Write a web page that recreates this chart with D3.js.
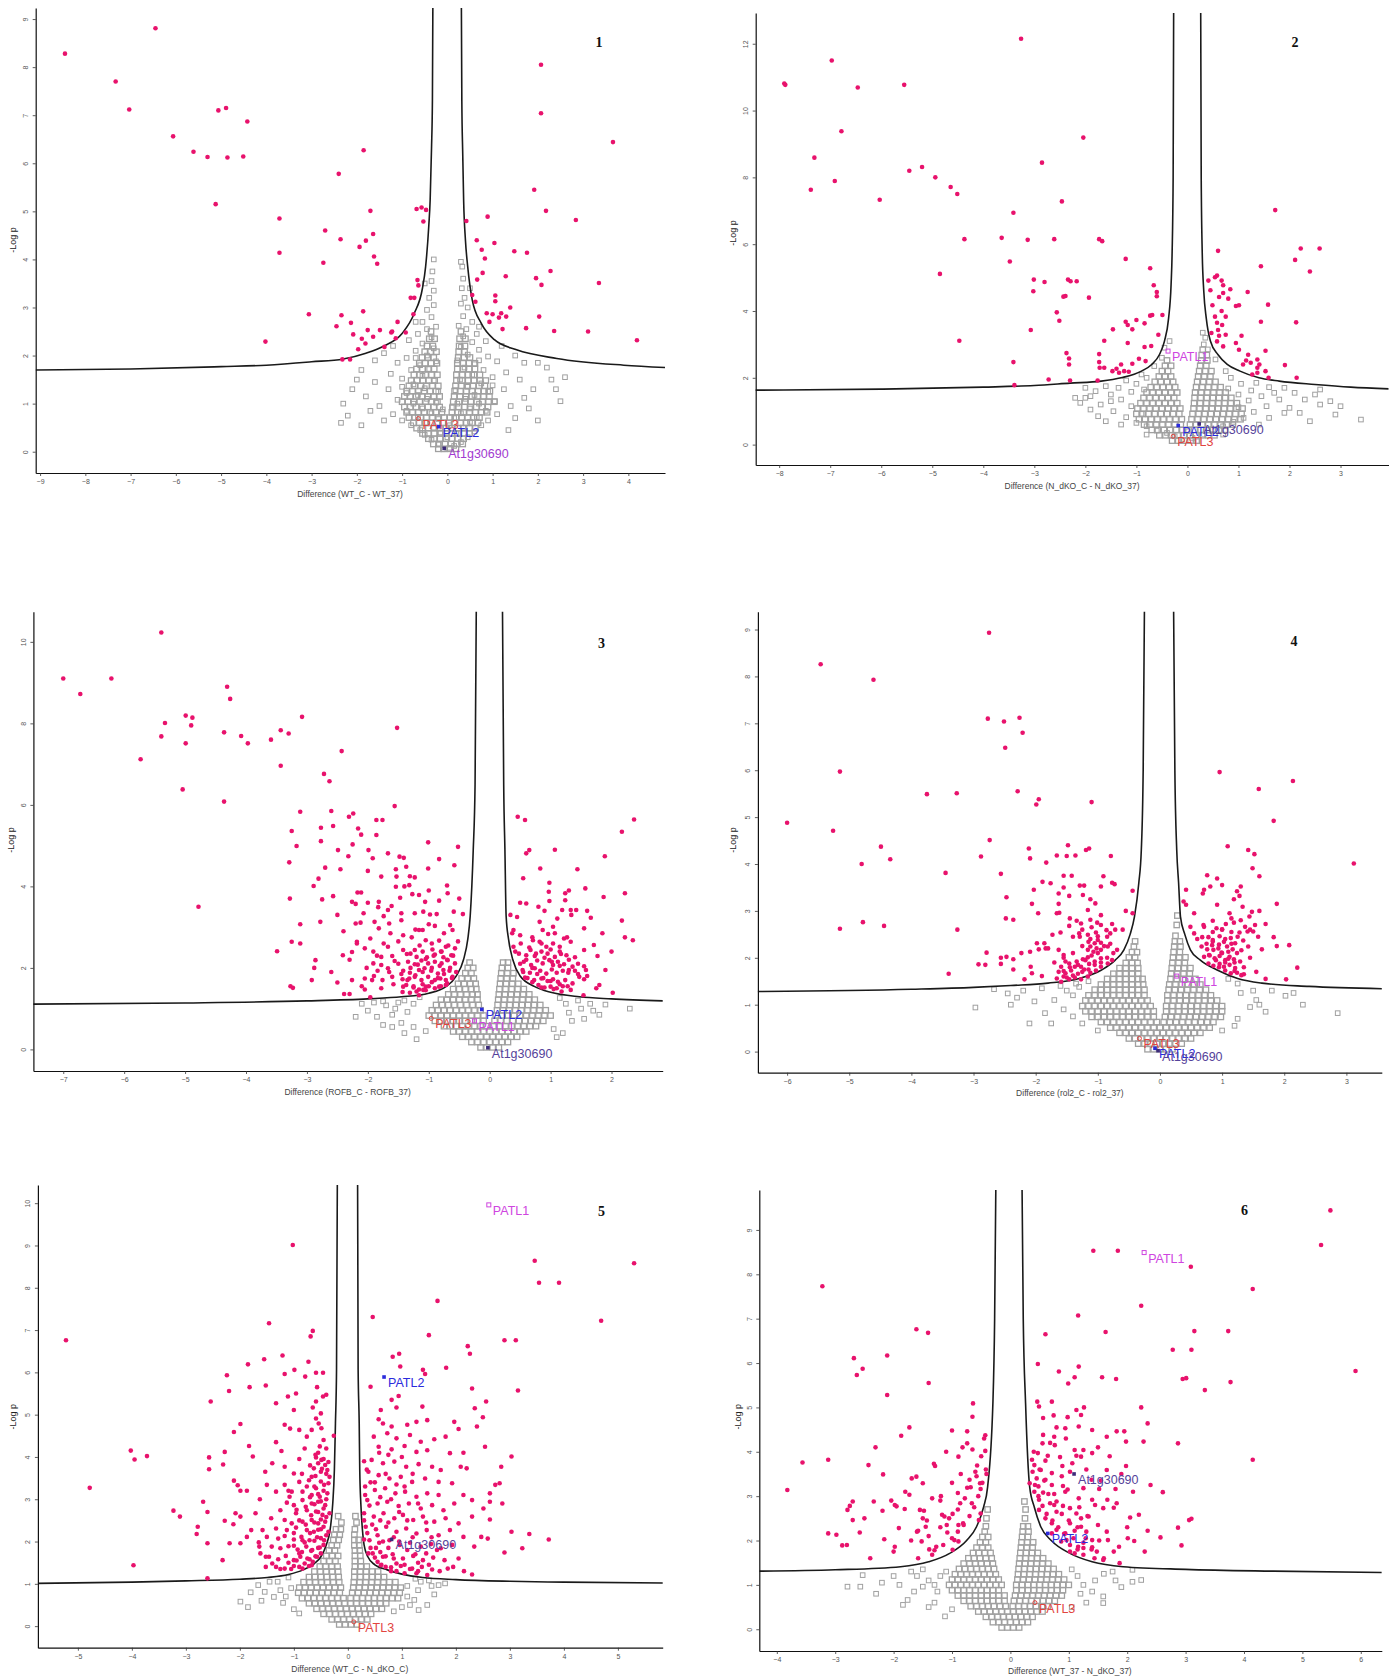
<!DOCTYPE html>
<html>
<head>
<meta charset="utf-8">
<script src="https://cdn.jsdelivr.net/npm/d3@7"></script>
<style>
  body { margin: 0; background: #fff; }
  svg { display: block; }
</style>
</head>
<body>
<svg id="chart" width="1399" height="1678"></svg>
<script>
// Volcano plots: x = difference of means, y = -log10 p.
// sigN = proteins above the cut-off (pink), nsN = scattered non-significant proteins,
// coreN = rows [y, x1, x2, ...] of the dense non-significant cloud, cutN = cut-off curve branches.

// ---------- Panel 1: Difference (WT_C - WT_37) ----------
const xTicks1 = [-9,-8,-7,-6,-5,-4,-3,-2,-1,0,1,2,3,4];
const yTicks1 = [0,1,2,3,4,5,6,7,8,9];
const sig1 = [[-6.45,8.81],[-8.45,8.28],[-7.33,7.70],[-7.03,7.12],[-5.06,7.10],[-4.89,7.15],[-4.42,6.87],[-6.06,6.56],[-5.61,6.24],[-5.3,6.13],[-4.86,6.12],[-4.51,6.14],[-1.85,6.27],[-5.12,5.15],[-2.4,5.78],[2.07,8.05],[2.07,7.04],[3.66,6.44],[1.92,5.45],[2.18,5.01],[2.84,4.82],[-3.71,4.85],[-3.71,4.14],[-2.7,4.6],[-2.36,4.42],[-1.8,4.39],[-1.94,4.26],[-1.64,4.53],[-1.7,5.01],[-1.62,4.06],[-1.55,3.91],[-2.74,3.93],[-0.68,5.05],[-0.57,5.08],[-0.47,5.03],[-0.53,4.79],[-0.66,3.57],[-0.64,3.46],[-0.81,3.2],[-0.73,3.2],[-0.75,2.86],[-3.06,2.86],[-2.34,2.84],[-1.86,2.92],[-2.45,2.61],[-2.13,2.68],[-2.08,2.44],[-1.76,2.53],[-1.49,2.53],[-1.89,2.35],[-1.81,2.25],[-1.97,2.13],[-1.64,2.39],[-1.39,2.18],[-1.24,2.48],[-1.22,2.5],[-1.14,2.36],[-1.1,2.7],[-0.92,2.48],[-4.02,2.29],[-2.32,1.92],[-2.15,1.92],[0.42,4.8],[0.89,4.89],[0.65,4.4],[1.04,4.34],[0.76,4.2],[0.83,4.02],[1.48,4.17],[1.76,4.14],[0.78,3.72],[0.66,3.58],[1.29,3.65],[1.96,3.61],[2.28,3.76],[2.08,3.47],[3.35,3.51],[0.55,3.26],[1.06,3.25],[1.06,3.13],[0.62,3.12],[0.87,2.88],[1.0,2.86],[1.19,2.88],[1.39,3.0],[1.14,2.79],[1.3,2.81],[0.93,2.7],[2.03,2.81],[1.22,2.55],[1.74,2.57],[2.36,2.51],[3.11,2.5],[4.19,2.32]];
const ns1 = [[-0.1,0.05],[0.05,0.08],[-0.2,0.15],[0.15,0.12],[-0.35,0.25],[0.3,0.2],[0.0,0.3],[-0.5,0.35],[0.45,0.3],[-0.15,0.4],[0.2,0.38],[-0.6,0.45],[0.6,0.42],[-0.3,0.5],[0.35,0.5],[-0.8,0.55],[0.75,0.55],[0.05,0.55],[-0.45,0.6],[0.5,0.62],[-1.0,0.65],[0.9,0.65],[-0.2,0.68],[0.15,0.7],[-0.65,0.72],[0.65,0.72],[-1.2,0.78],[1.1,0.78],[-0.35,0.8],[0.3,0.8],[-0.9,0.85],[0.85,0.85],[-0.55,0.9],[0.5,0.9],[-0.1,0.88],[0.1,0.92],[-1.5,0.95],[1.4,0.95],[-0.75,1.0],[0.7,1.0],[-0.25,1.02],[0.22,1.0],[-1.1,1.08],[1.05,1.05],[-0.45,1.1],[0.4,1.1],[-1.8,1.15],[1.7,1.12],[-0.65,1.18],[0.6,1.18],[-0.9,1.22],[0.9,1.25],[-0.2,1.25],[0.18,1.28],[-1.3,1.3],[1.25,1.3],[-0.5,1.32],[0.45,1.35],[-2.3,1.0],[2.5,1.05],[-2.1,1.3],[2.3,1.5],[-0.75,1.4],[0.75,1.42],[-1.6,1.45],[1.6,1.5],[-0.3,1.48],[0.28,1.5],[-1.0,1.52],[1.0,1.55],[-0.55,1.58],[0.55,1.6],[-1.25,1.62],[1.3,1.65],[-0.8,1.7],[0.8,1.7],[-0.4,1.72],[0.38,1.75],[-1.9,1.7],[2.0,1.85],[-0.6,1.8],[0.6,1.82],[-1.1,1.85],[1.1,1.88],[-0.25,1.88],[0.22,1.9],[-0.9,1.95],[0.9,1.98],[-0.45,2.0],[0.45,2.02],[-1.4,2.05],[1.5,2.0],[-0.7,2.1],[0.7,2.12],[-0.3,2.15],[0.3,2.18],[-1.2,2.2],[1.2,2.2],[-0.55,2.25],[0.55,2.28],[-0.85,2.32],[0.85,2.3],[-0.35,2.38],[0.35,2.4],[-0.65,2.45],[0.65,2.45],[-0.45,2.55],[0.42,2.55],[-0.25,2.6],[0.25,2.62],[-0.55,2.7],[0.55,2.7],[-0.35,2.8],[0.35,2.82],[-0.7,2.7],[0.7,2.6],[-0.45,2.95],[0.45,3.0],[-0.3,3.05],[0.3,3.08],[-0.4,3.2],[0.38,3.2],[-0.3,3.35],[0.32,3.4],[-0.35,3.55],[0.35,3.6],[-0.33,3.75],[0.33,3.85],[-0.3,4.0],[0.3,3.95],[-1.0,1.35],[1.0,1.38],[-0.7,1.95],[0.7,1.9],[-2.2,0.75],[-1.9,0.55],[2.0,0.65],[2.4,1.3],[1.9,1.3],[-1.7,0.85],[1.8,0.9],[-1.4,0.65],[1.5,0.7],[-2.0,1.5],[2.2,1.75],[-1.6,1.9],[1.7,1.85],[-0.5,3.5],[0.5,3.4],[2.6,1.55],[-2.35,0.6],[1.35,0.45]];
const core1 = [
  [0.06,-0.2,-0.07,0.06,0.19],
  [0.16,-0.31,-0.18,-0.05,0.08,0.21,0.34],
  [0.27,-0.42,-0.29,-0.16,-0.03,0.1,0.23,0.36],
  [0.38,-0.55,-0.42,-0.29,-0.16,-0.03,0.1,0.23,0.36,0.49],
  [0.49,-0.68,-0.55,-0.42,-0.29,-0.16,-0.03,0.1,0.23,0.36,0.49,0.62],
  [0.6,-0.75,-0.62,-0.49,-0.36,-0.23,-0.1,0.03,0.16,0.29,0.42,0.55,0.68],
  [0.71,-0.85,-0.72,-0.59,-0.46,-0.33,-0.2,-0.07,0.06,0.19,0.32,0.45,0.58,0.71],
  [0.82,-0.9,-0.77,-0.64,-0.51,-0.38,-0.25,-0.12,0.1,0.23,0.36,0.49,0.62,0.75,0.88],
  [0.93,-0.95,-0.82,-0.69,-0.56,-0.43,-0.3,-0.17,0.12,0.25,0.38,0.51,0.64,0.77,0.9],
  [1.04,-1.0,-0.87,-0.74,-0.61,-0.48,-0.35,-0.22,0.13,0.26,0.39,0.52,0.65,0.78,0.91,1.04],
  [1.15,-0.95,-0.82,-0.69,-0.56,-0.43,-0.3,-0.17,0.15,0.28,0.41,0.54,0.67,0.8,0.93],
  [1.26,-0.9,-0.77,-0.64,-0.51,-0.38,-0.25,0.16,0.29,0.42,0.55,0.68,0.81,0.94],
  [1.37,-0.85,-0.72,-0.59,-0.46,-0.33,-0.2,0.18,0.31,0.44,0.57,0.7,0.83],
  [1.48,-0.8,-0.67,-0.54,-0.41,-0.28,0.2,0.33,0.46,0.59,0.72,0.85],
  [1.6,-0.74,-0.61,-0.48,-0.35,-0.22,0.2,0.33,0.46,0.59,0.72],
  [1.72,-0.68,-0.55,-0.42,-0.29,0.22,0.35,0.48,0.61],
  [1.84,-0.62,-0.49,-0.36,-0.23,0.22,0.35,0.48,0.61],
  [1.96,-0.56,-0.43,-0.3,0.24,0.37,0.5],
  [2.08,-0.5,-0.37,-0.24,0.25,0.38],
  [2.2,-0.45,-0.32,0.26,0.39],
  [2.35,-0.4,-0.28,0.27,0.4],
  [2.5,-0.36,0.3]
];
const cut1L = [[-9.1,1.70],[-7,1.72],[-5,1.77],[-4,1.80],[-3,1.87],[-2.3,1.93],[-1.8,2.05],[-1.4,2.2],[-1.0,2.46],[-0.73,2.88],[-0.55,3.4],[-0.48,3.85],[-0.41,4.7],[-0.38,5.23],[-0.35,6.3],[-0.33,7.3],[-0.32,9.3]];
const cut1R = [[0.31,9.3],[0.32,7.3],[0.34,6.2],[0.36,5.23],[0.4,4.4],[0.45,3.85],[0.55,3.16],[0.75,2.67],[1.04,2.33],[1.53,2.12],[2.42,1.94],[3.9,1.8],[4.85,1.75]];
const tags1 = [{name:"PATL3",x:-0.64,y:0.69},{name:"PATL2",x:-0.19,y:0.52},{name:"At1g30690",x:-0.07,y:0.07}];

// ---------- Panel 2: Difference (N_dKO_C - N_dKO_37) ----------
const xTicks2 = [-8,-7,-6,-5,-4,-3,-2,-1,0,1,2,3];
const yTicks2 = [0,2,4,6,8,10,12];
const sig2 = [[-7.9,10.81],[-7.88,10.77],[-6.97,11.5],[-6.46,10.69],[-5.55,10.77],[-6.78,9.38],[-7.31,8.59],[-5.45,8.2],[-5.2,8.31],[-6.91,7.89],[-7.38,7.63],[-6.03,7.33],[-4.94,8.0],[-4.64,7.71],[-4.51,7.5],[-3.26,12.15],[-2.04,9.19],[-2.85,8.44],[-2.46,7.28],[-3.41,6.94],[-4.37,6.15],[-3.64,6.19],[-3.13,6.13],[-2.61,6.15],[-1.73,6.15],[-1.67,6.09],[-3.48,5.48],[-4.85,5.11],[-3.01,4.94],[-2.8,4.87],[-2.34,4.94],[-2.29,4.89],[-2.17,4.89],[-3.02,4.59],[-2.39,4.45],[-2.43,4.43],[-1.93,4.4],[-1.21,5.56],[-0.73,5.28],[-0.66,4.77],[-0.6,4.57],[-0.6,4.44],[-2.56,3.96],[-2.51,3.71],[-1.21,3.68],[-1.17,3.58],[-1.0,3.73],[-0.84,3.63],[-0.73,3.86],[-0.69,3.88],[-0.49,3.88],[-1.46,3.45],[-1.08,3.45],[-3.07,3.43],[-4.47,3.11],[-1.63,3.11],[-1.17,3.04],[-0.57,3.29],[-0.84,2.92],[-0.71,2.95],[-1.73,2.71],[-2.37,2.74],[-2.32,2.58],[-2.32,2.4],[-3.41,2.47],[-1.73,2.47],[-1.63,2.3],[-1.72,2.3],[-1.3,2.4],[-1.39,2.27],[-1.47,2.2],[-1.24,2.2],[-1.08,2.42],[-0.95,2.57],[-0.82,2.5],[-1.15,2.18],[-1.34,2.15],[-2.72,1.95],[-2.3,1.92],[-1.76,1.92],[-3.39,1.78],[0.6,5.8],[0.41,4.91],[0.54,5.01],[0.58,5.06],[0.67,4.91],[0.45,4.62],[0.7,4.77],[0.84,4.65],[0.7,4.54],[0.62,4.42],[0.8,4.37],[0.49,4.17],[0.95,4.15],[1.01,4.17],[1.18,4.57],[0.67,4.0],[0.54,3.83],[0.58,3.65],[0.75,3.83],[0.68,3.58],[0.6,3.43],[0.47,3.34],[0.62,3.26],[0.75,3.29],[1.06,3.26],[0.58,3.09],[0.7,2.94],[1.01,2.84],[0.95,3.04],[1.19,2.69],[1.53,2.81],[1.44,5.34],[1.44,3.68],[1.58,4.19],[1.72,7.02],[2.22,5.87],[2.59,5.87],[2.11,5.53],[2.4,5.18],[2.13,3.66],[1.15,2.52],[1.24,2.45],[1.37,2.55],[1.41,2.4],[1.09,2.4],[1.27,2.1],[1.37,2.15],[1.53,2.2],[1.37,2.3],[1.91,2.38],[2.14,2.0],[1.59,2.0]];
const ns2 = [[-0.1,0.15],[0.1,0.2],[-0.25,0.25],[0.2,0.1],[0.3,0.3],[-0.4,0.35],[0.0,0.4],[-0.6,0.42],[0.5,0.45],[-0.8,0.55],[0.7,0.55],[-1.0,0.65],[0.9,0.68],[1.1,0.8],[-1.2,0.82],[-0.9,0.92],[1.3,0.98],[-1.45,1.0],[1.0,1.12],[-1.1,1.15],[1.55,1.15],[-1.7,1.2],[1.2,1.32],[-1.3,1.35],[1.8,1.35],[-2.0,1.4],[1.45,1.45],[-1.5,1.5],[1.0,1.5],[-1.1,1.58],[2.1,1.55],[1.25,1.62],[-0.85,1.65],[0.8,1.68],[-1.35,1.7],[1.6,1.72],[-1.0,1.82],[1.05,1.82],[-0.8,2.0],[0.85,2.0],[-1.2,1.92],[1.35,1.85],[-0.9,2.1],[0.75,2.2],[-0.65,2.35],[0.55,2.55],[-0.5,2.6],[0.4,2.85],[-0.45,2.9],[0.32,3.0],[0.35,3.2],[0.3,3.35],[-0.35,3.1],[-2.1,1.25],[-1.9,1.05],[-1.75,0.85],[-1.6,0.7],[-2.2,1.4],[2.3,1.35],[2.6,1.2],[2.8,1.3],[3.0,1.15],[3.4,0.75],[2.5,1.5],[1.9,0.95],[1.6,0.8],[2.0,1.1],[2.2,0.95],[-1.3,0.6],[1.4,0.6],[-0.8,0.3],[0.7,0.3],[-1.5,1.3],[1.7,1.55],[-1.8,1.6],[1.9,1.7],[2.6,1.65],[-1.6,1.75],[-2.0,1.7],[2.9,0.9],[2.4,0.7],[-1.9,1.45]];
const core2 = [
  [0.12,-0.3,-0.18,-0.06,0.06,0.18],
  [0.28,-0.55,-0.43,-0.31,-0.19,-0.07,0.05,0.17,0.29,0.41,0.53],
  [0.44,-0.7,-0.58,-0.46,-0.34,-0.22,-0.1,0.02,0.14,0.26,0.38,0.5,0.62,0.74],
  [0.6,-0.85,-0.73,-0.61,-0.49,-0.37,-0.25,-0.13,0.05,0.17,0.29,0.41,0.53,0.65,0.77,0.89],
  [0.76,-0.95,-0.83,-0.71,-0.59,-0.47,-0.35,-0.23,-0.11,0.08,0.2,0.32,0.44,0.56,0.68,0.8,0.92,1.04],
  [0.92,-1.0,-0.88,-0.76,-0.64,-0.52,-0.4,-0.28,-0.16,0.1,0.22,0.34,0.46,0.58,0.7,0.82,0.94,1.06],
  [1.08,-0.98,-0.86,-0.74,-0.62,-0.5,-0.38,-0.26,-0.14,0.12,0.24,0.36,0.48,0.6,0.72,0.84,0.96,1.08],
  [1.24,-0.92,-0.8,-0.68,-0.56,-0.44,-0.32,-0.2,0.13,0.25,0.37,0.49,0.61,0.73,0.85,0.97],
  [1.4,-0.86,-0.74,-0.62,-0.5,-0.38,-0.26,0.14,0.26,0.38,0.5,0.62,0.74,0.86],
  [1.56,-0.8,-0.68,-0.56,-0.44,-0.32,-0.2,0.15,0.27,0.39,0.51,0.63,0.75],
  [1.72,-0.72,-0.6,-0.48,-0.36,-0.24,0.17,0.29,0.41,0.53,0.65],
  [1.88,-0.64,-0.52,-0.4,-0.28,0.19,0.31,0.43,0.55],
  [2.04,-0.56,-0.44,-0.32,0.21,0.33,0.45],
  [2.2,-0.5,-0.38,0.23,0.35,0.47],
  [2.36,-0.44,-0.32,0.25,0.37],
  [2.52,-0.4,0.27,0.39],
  [2.68,0.28,0.38],
  [2.84,0.3]
];
const cut2L = [[-8.5,1.63],[-6,1.66],[-4,1.72],[-3,1.77],[-2.3,1.84],[-1.69,1.9],[-1.3,2.0],[-0.9,2.2],[-0.7,2.4],[-0.55,2.69],[-0.45,3.1],[-0.37,3.77],[-0.32,4.8],[-0.3,5.75],[-0.28,8],[-0.27,13]];
const cut2R = [[0.26,13],[0.27,8],[0.29,5.75],[0.32,4.6],[0.37,3.77],[0.45,3.1],[0.6,2.69],[0.78,2.4],[1.03,2.2],[1.4,2.0],[1.8,1.9],[2.5,1.8],[3.2,1.72],[3.95,1.67]];
const tags2 = [{name:"PATL1",x:-0.38,y:2.8},{name:"PATL2",x:-0.18,y:0.57},{name:"At1g30690",x:0.23,y:0.62},{name:"PATL3",x:-0.28,y:0.25}];

// ---------- Panel 3: Difference (ROFB_C - ROFB_37) ----------
const xTicks3 = [-7,-6,-5,-4,-3,-2,-1,0,1,2];
const yTicks3 = [0,2,4,6,8,10];
const sig3 = [[-7.0,9.1],[-6.72,8.72],[-6.21,9.1],[-5.39,10.23],[-4.31,8.9],[-4.26,8.6],[-4.99,8.19],[-4.88,8.14],[-5.33,8.01],[-4.9,7.95],[-5.39,7.68],[-4.99,7.51],[-5.73,7.12],[-5.04,6.38],[-4.36,7.78],[-4.08,7.69],[-3.97,7.51],[-3.43,7.83],[-3.3,7.75],[-3.59,7.6],[-3.08,8.16],[-1.52,7.89],[-2.43,7.32],[-3.43,6.96],[-4.36,6.08],[-4.78,3.5],[-2.72,6.76],[-2.63,6.58],[-1.56,5.97],
[-3.11,5.83],[-2.6,5.85],[-2.31,5.71],[-2.24,5.79],[-1.86,5.63],[-1.76,5.63],[-3.25,5.36],[-2.77,5.44],[-2.57,5.48],[-2.16,5.42],[-2.11,5.27],[-1.86,5.26],[-3.17,4.99],[-2.77,5.11],[-2.25,5.03],[-2.49,4.89],[-1.99,4.89],[-1.01,5.08],[-0.52,4.97],[-3.29,4.59],[-2.32,4.74],[-2.7,4.46],[-2.45,4.42],[-1.92,4.69],[-1.67,4.81],[-1.48,4.73],[-1.41,4.7],[-1.37,4.48],[-1.54,4.42],[-2.0,4.38],[-1.78,4.24],[-1.53,4.24],[-1.31,4.25],[-1.23,4.22],[-1.01,4.44],[-0.83,4.67],[-0.58,4.52],[-2.89,4.01],[-2.81,4.19],[-2.17,3.85],[-2.11,3.85],[-1.54,3.99],[-1.32,4.03],[-0.7,4.02],[-0.69,3.83],[-2.75,3.68],[-2.57,3.76],[-3.28,3.7],[-2.26,3.62],[-2.2,3.57],[-1.82,3.62],[-1.47,3.72],[-1.27,3.81],[-1.16,3.79],[-1.06,3.62],[-0.83,3.65],[-2.07,3.34],[-1.83,3.49],[-1.67,3.42],[-1.61,3.52],[-1.45,3.34],[-1.23,3.34],[-1.09,3.38],[-0.98,3.31],[-0.87,3.32],[-0.59,3.38],[-0.44,3.32],[-3.11,3.07],[-2.78,3.13],[-2.2,3.09],[-2.12,3.11],[-1.89,3.13],[-1.74,3.27],[-1.65,3.09],[-1.45,3.17],[-1.22,2.94],[-1.16,2.93],[-1.1,2.93],[-1.0,3.07],[-0.9,3.03],[-0.65,3.05],[-0.61,2.93],[-1.82,2.97],[-1.63,2.85],[-1.42,2.8],[-2.18,2.64],[-2.18,2.6],[-1.96,2.72],[-1.74,2.6],[-1.5,2.65],[-1.28,2.75],[-1.05,2.68],[-0.83,2.67],[-0.72,2.52],[-3.25,2.64],[-3.11,2.6],[-2.05,2.48],[-1.91,2.4],[-1.67,2.52],[-1.42,2.44],[-1.23,2.44],[-1.1,2.4],[-0.94,2.45],[-0.79,2.4],[-0.57,2.48],[-2.41,2.31],[-2.26,2.39],[-1.78,2.27],[-1.6,2.29],[-1.36,2.34],[-1.2,2.27],[-1.03,2.26],[-0.9,2.33],[-0.76,2.26],[-0.63,2.31],[-3.49,2.41],[-2.86,2.19],[-2.88,2.0],[-1.91,2.11],[-1.78,2.07],[-1.56,2.17],[-1.34,2.15],[-1.23,2.09],[-1.12,2.18],[-1.01,2.11],[-0.9,2.15],[-0.79,2.11],[-0.69,2.19],[-0.57,2.11],[-2.02,2.0],[-1.84,1.93],[-1.67,1.99],[-1.42,1.93],[-1.31,1.88],[-1.16,1.95],[-1.07,1.99],[-0.96,1.93],[-0.85,1.86],[-0.76,1.95],[-0.66,1.93],[-2.92,1.7],[-2.5,1.64],[-2.26,1.7],[-2.05,1.74],[-1.93,1.7],[-1.76,1.7],[-1.6,1.78],[-1.43,1.72],[-1.32,1.74],[-1.23,1.78],[-1.12,1.7],[-1.01,1.78],[-0.9,1.7],[-0.81,1.74],[-0.72,1.7],[-0.61,1.78],[-3.27,1.55],[-3.23,1.51],[-2.39,1.36],[-2.3,1.36],[-2.05,1.47],[-1.96,1.28],[-1.78,1.5],[-1.42,1.54],[-1.37,1.58],[-1.25,1.52],[-1.16,1.47],[-1.05,1.54],[-1.0,1.55],[-0.83,1.54],[-0.72,1.58],[-1.43,1.41],[-1.31,1.39],[-1.16,1.33],[-1.09,1.46],
[-0.55,1.9],[-0.62,1.75],[-0.7,1.62],[-0.8,1.55],[-0.9,1.5],[-1.05,1.45],[-1.2,1.42],[-0.65,2.0],[-0.75,1.85],[-0.85,1.75],[-0.95,1.65],[-1.1,1.6],[-1.25,1.55],[-0.6,2.3],[-0.7,2.2],[-0.82,2.05],[-0.95,2.0],[-1.1,1.9],[-1.22,1.82],[-1.35,1.7],[-0.52,2.65],[-0.68,2.55],[-0.8,2.4],[-0.92,2.3],[-1.05,2.22],[-1.18,2.08],[-1.3,2.0],[-1.45,1.85],[-1.58,1.6],[-0.75,2.85],[-0.95,2.6],[-1.15,2.55],[-1.3,2.35],[-1.5,2.1],[-1.65,1.9],[-1.9,1.8],[-2.1,1.55],[-1.85,2.3],[-2.3,2.2],[-2.6,1.9],[-2.4,2.9],[-2.0,3.6],[-2.5,3.3],[-1.4,4.0],[-1.0,3.9],[-0.5,3.7],
[0.46,5.71],[0.58,5.63],[0.6,4.81],[0.65,4.89],[0.6,3.58],[0.34,3.3],[0.45,3.25],[0.39,2.93],[0.37,2.85],[0.39,2.52],[0.51,2.6],[0.48,2.35],[0.67,2.44],[0.83,4.44],[0.98,4.09],[0.97,3.87],[1.07,4.9],[1.44,4.42],[1.57,3.95],[1.89,4.74],[1.87,3.74],[2.22,3.83],[2.17,3.16],[2.37,5.64],[2.17,5.34],[2.22,2.75],[2.35,2.68],[1.24,3.83],[1.24,3.66],[0.98,3.64],[0.9,3.4],[0.82,3.13],[1.04,3.01],[1.11,3.21],[1.19,3.42],[1.33,3.42],[1.42,3.42],[1.34,3.3],[1.66,3.23],[1.55,2.97],[0.87,2.93],[0.96,2.83],[1.07,2.85],[1.22,2.72],[1.27,2.75],[0.71,2.68],[0.82,2.64],[0.93,2.52],[1.04,2.6],[1.15,2.52],[1.33,2.64],[1.55,2.44],[1.71,2.56],[0.6,2.31],[0.74,2.29],[0.85,2.4],[0.95,2.35],[1.07,2.27],[1.17,2.34],[1.26,2.31],[1.4,2.26],[0.56,2.15],[0.68,2.07],[0.78,2.18],[0.87,2.11],[0.98,2.19],[1.04,2.07],[1.12,2.15],[1.22,2.09],[1.36,2.03],[1.55,2.04],[0.54,1.95],[0.66,1.88],[0.74,1.99],[0.83,1.93],[0.93,1.86],[1.02,1.96],[1.1,1.88],[1.2,1.93],[1.29,1.88],[1.4,1.93],[1.55,1.72],[0.58,1.76],[0.73,1.7],[0.85,1.74],[0.95,1.68],[1.04,1.72],[1.12,1.66],[1.24,1.7],[1.0,1.54],[1.1,1.5],[1.2,1.55],[0.85,1.52],[1.33,1.46],[1.8,1.58],[2.02,1.39],[1.54,1.33],[1.36,1.62],[1.47,1.78],[1.58,1.95],[1.77,2.29],
[0.42,2.4],[0.5,2.1],[0.55,1.9],[0.62,1.75],[0.7,1.65],[0.8,1.58],[0.9,1.52],[1.05,1.48],[1.18,1.42],[0.6,2.2],[0.7,2.0],[0.78,1.85],[0.88,1.75],[1.0,1.68],[1.15,1.6],[1.28,1.55],[0.65,2.5],[0.76,2.35],[0.9,2.25],[1.02,2.15],[1.15,2.05],[1.3,1.95],[1.45,1.85],[0.5,2.8],[0.7,2.75],[0.85,2.6],[1.0,2.45],[1.15,2.4],[1.3,2.2],[1.45,2.1],[1.6,1.8],[1.75,1.5],[1.9,1.95],[2.0,2.4],[1.85,2.85],[1.6,3.4],[1.3,3.9],[0.8,3.5],[0.5,3.6],[0.55,4.2]];
const ns3 = [[-2.0,0.95],[-1.85,0.8],[-1.6,0.85],[-1.45,0.65],[-1.25,0.55],[1.35,0.7],[1.55,0.75],[1.7,0.95],[1.8,0.85],[-1.05,0.45],[1.05,0.5],[-1.5,1.15],[1.45,1.2],[-1.15,1.28],[1.15,1.26],[-1.35,0.92],[1.3,0.9],[-1.55,1.0],[1.5,1.0],[-1.25,1.12],[1.25,1.12],[-1.7,1.08],[1.65,1.12],[-1.4,1.2],[-1.9,1.15],[-2.1,1.12],[-1.75,1.18],[1.9,1.1],[-1.4,0.4],[-1.6,0.55],[-1.75,0.6],[1.2,0.4],[-2.2,0.8],[2.3,1.0],[-1.2,0.25],[1.1,0.3]];
const core3 = [
  [0.05,-0.15,-0.05,0.05,0.15],
  [0.18,-0.3,-0.2,-0.1,0.0,0.1,0.2,0.3],
  [0.31,-0.45,-0.35,-0.25,-0.15,-0.05,0.05,0.15,0.25,0.35,0.45],
  [0.44,-0.6,-0.5,-0.4,-0.3,-0.2,-0.1,0.0,0.1,0.2,0.3,0.4,0.5,0.6],
  [0.57,-0.75,-0.65,-0.55,-0.45,-0.35,-0.25,-0.15,-0.05,0.06,0.16,0.26,0.36,0.46,0.56,0.66,0.76],
  [0.7,-0.9,-0.8,-0.7,-0.6,-0.5,-0.4,-0.3,-0.2,-0.1,0.08,0.18,0.28,0.38,0.48,0.58,0.68,0.78,0.88],
  [0.83,-1.0,-0.9,-0.8,-0.7,-0.6,-0.5,-0.4,-0.3,-0.2,-0.1,0.1,0.2,0.3,0.4,0.5,0.6,0.7,0.8,0.9,1.0],
  [0.96,-0.95,-0.85,-0.75,-0.65,-0.55,-0.45,-0.35,-0.25,-0.15,0.12,0.22,0.32,0.42,0.52,0.62,0.72,0.82,0.92],
  [1.09,-0.88,-0.78,-0.68,-0.58,-0.48,-0.38,-0.28,-0.18,0.13,0.23,0.33,0.43,0.53,0.63,0.73,0.83],
  [1.22,-0.8,-0.7,-0.6,-0.5,-0.4,-0.3,-0.2,0.14,0.24,0.34,0.44,0.54,0.64,0.74],
  [1.35,-0.68,-0.58,-0.48,-0.38,-0.28,-0.2,0.15,0.25,0.35,0.45,0.55,0.65],
  [1.48,-0.6,-0.5,-0.4,-0.3,-0.22,0.16,0.26,0.36,0.46,0.56],
  [1.61,-0.52,-0.42,-0.32,-0.23,0.17,0.27,0.37,0.47],
  [1.74,-0.46,-0.36,-0.26,0.18,0.28,0.38],
  [1.87,-0.4,-0.3,0.19,0.29,0.39],
  [2.0,-0.36,-0.27,0.2,0.3],
  [2.13,-0.33,0.22,0.3]
];
const cut3L = [[-7.5,1.11],[-5,1.14],[-3,1.19],[-2,1.24],[-1.45,1.29],[-1.0,1.38],[-0.72,1.54],[-0.55,1.8],[-0.43,2.2],[-0.36,2.7],[-0.32,3.27],[-0.27,4.9],[-0.24,6.5],[-0.22,10.8]];
const cut3R = [[0.21,10.8],[0.23,6.5],[0.25,4.9],[0.27,3.27],[0.31,2.7],[0.38,2.2],[0.5,1.8],[0.74,1.54],[1.0,1.4],[1.47,1.29],[2.0,1.24],[2.85,1.19]];
const tags3 = [{name:"PATL2",x:-0.13,y:0.98},{name:"PATL1",x:-0.25,y:0.7},{name:"PATL3",x:-0.96,y:0.76},{name:"At1g30690",x:-0.03,y:0.04}];

// ---------- Panel 4: Difference (rol2_C - rol2_37) ----------
const xTicks4 = [-6,-5,-4,-3,-2,-1,0,1,2,3];
const yTicks4 = [0,1,2,3,4,5,6,7,8,9];
const sig4 = [[-2.75,8.93],[-5.46,8.26],[-4.61,7.93],[-2.77,7.1],[-2.51,7.04],[-2.26,7.12],[-2.21,6.8],[-2.49,6.48],[-5.15,5.97],[-3.75,5.49],[-3.27,5.51],[-2.29,5.55],[-1.95,5.38],[-1.99,5.27],[-1.1,5.32],[-6.0,4.88],[-5.26,4.71],[-2.74,4.51],[-4.49,4.37],[-4.8,4.0],[-4.34,4.1],[-3.45,3.81],[-4.78,2.76],[-4.44,2.68],[-5.15,2.62],[-3.26,2.6],[-3.4,1.66],[0.96,5.96],[2.14,5.77],[1.59,5.6],[1.83,4.92],[3.12,4.01],[1.09,4.38],[1.42,4.3],[1.52,4.21],[1.49,3.91],[1.6,3.74],
[-2.11,4.33],[-2.09,4.12],[-2.88,4.16],[-2.56,3.79],[-2.03,3.45],[-2.06,3.15],[-1.96,2.95],[-2.47,3.29],[-2.48,2.84],[-2.36,2.81],[-1.83,4.03],[-1.89,3.62],[-1.76,3.59],[-1.66,4.18],[-1.55,3.75],[-1.55,3.5],[-1.48,4.4],[-1.5,4.17],[-1.42,3.75],[-1.29,3.54],[-1.22,3.54],[-1.36,4.18],[-1.19,4.3],[-1.14,4.33],[-0.79,4.17],[-0.91,3.74],[-0.77,3.6],[-0.73,3.57],[-0.95,3.52],[-0.44,3.43],[-1.63,3.37],[-1.46,3.32],[-1.24,3.34],[-1.12,3.25],[-1.04,3.16],[-1.63,3.15],[-1.66,2.95],[-1.62,2.96],[-1.45,2.84],[-1.34,2.79],[-1.27,2.73],[-1.16,3.02],[-1.12,2.81],[-0.95,2.91],[-1.01,2.75],[-0.77,2.72],[-0.86,2.59],[-0.44,2.95],[-1.3,2.52],[-1.29,2.45],[-1.16,2.49],[-1.03,2.54],[-1.0,2.46],[-0.8,2.52],[-1.73,2.49],[-1.6,2.54],[-1.46,2.68],[-1.15,2.34],[-1.05,2.31],[-1.12,2.24],[-1.02,2.2],[-0.95,2.32],[-1.16,2.17],[-1.07,2.13],[-0.95,2.17],[-0.84,2.24],[-0.69,2.17],[-1.98,2.31],[-1.86,2.31],[-1.95,2.18],[-1.84,2.2],[-2.09,2.13],[-2.23,2.1],[-2.79,2.11],[-2.56,2.0],[-2.47,2.02],[-2.36,1.97],[-2.92,1.86],[-2.81,1.85],[-2.56,1.87],[-2.36,1.75],[-2.08,1.81],[-2.06,1.67],[-1.9,1.61],[-2.18,1.54],[-1.63,2.17],[-1.55,2.06],[-1.52,1.92],[-1.59,1.81],[-1.46,1.88],[-1.37,1.81],[-1.34,1.92],[-1.24,1.97],[-1.27,1.81],[-1.16,2.01],[-1.14,1.87],[-1.05,1.92],[-0.95,1.99],[-0.95,1.81],[-0.84,1.88],[-0.77,1.95],[-1.63,1.7],[-1.52,1.67],[-1.43,1.73],[-1.32,1.66],[-1.22,1.75],[-1.12,1.68],[-1.03,1.73],[-1.66,1.56],[-1.55,1.6],[-1.46,1.54],[-1.37,1.58],[-1.27,1.54],[-1.16,1.6],[-1.59,1.49],
[-0.75,2.1],[-0.85,2.0],[-0.95,1.9],[-1.05,1.85],[-1.15,1.75],[-1.25,1.7],[-1.4,1.62],[-1.5,1.58],[-0.8,2.3],[-0.9,2.25],[-1.0,2.1],[-1.1,2.05],[-1.2,1.95],[-1.32,1.85],[-1.45,1.8],[-1.55,1.72],[-0.72,2.6],[-0.85,2.45],[-1.0,2.38],[-1.12,2.4],[-1.25,2.25],[-1.4,2.1],[-1.55,2.0],[-0.95,2.7],[-1.1,2.65],[-1.25,2.6],[-1.4,2.45],[-1.7,1.9],[-1.8,2.2],[-0.6,2.6],[-0.55,3.0],
[0.42,3.45],[0.38,3.2],[0.42,3.13],[0.55,2.95],[0.71,3.45],[0.76,3.76],[0.92,3.69],[1.0,3.55],[0.81,3.52],[0.69,3.37],[0.92,3.13],[1.12,2.95],[1.15,2.84],[1.28,3.32],[1.24,3.42],[1.3,3.52],[1.19,3.25],[1.33,3.09],[1.48,2.98],[1.44,2.88],[1.88,3.15],[1.7,2.72],[1.83,2.44],[1.64,2.18],[1.88,2.25],[2.08,2.27],[2.21,1.79],[2.03,1.54],[0.49,2.66],[0.55,2.52],[0.71,2.66],[0.85,2.79],[0.91,2.63],[1.0,2.61],[1.06,2.72],[1.19,2.75],[1.28,2.54],[1.37,2.66],[1.41,2.56],[1.5,2.56],[1.53,2.7],[1.58,2.45],[0.68,2.44],[0.78,2.44],[0.85,2.38],[0.96,2.46],[1.03,2.34],[1.14,2.42],[1.21,2.31],[1.34,2.37],[1.42,2.24],[0.67,2.24],[0.76,2.18],[0.84,2.27],[0.86,2.17],[0.94,2.2],[0.99,2.11],[1.08,2.24],[1.1,2.13],[1.17,2.18],[1.24,2.1],[1.31,2.16],[0.71,2.02],[0.79,2.06],[0.88,1.99],[0.96,2.04],[1.05,1.95],[1.12,2.02],[1.19,1.97],[1.29,1.92],[0.78,1.88],[0.86,1.83],[0.96,1.87],[1.03,1.81],[1.12,1.85],[1.21,1.78],[1.05,1.73],[1.14,1.67],[1.24,1.68],[1.31,1.63],
[0.75,2.3],[0.85,2.35],[0.95,2.28],[1.05,2.4],[1.15,2.3],[1.25,2.45],[0.8,2.05],[0.9,1.95],[1.0,2.1],[1.1,1.98],[1.2,1.9],[1.35,1.8],[0.95,1.8],[1.05,1.9],[1.2,1.72],[1.35,1.65],[0.85,2.55],[1.0,2.6],[1.15,2.55],[1.3,2.8],[0.7,2.7],[0.6,2.4],[1.45,2.0],[1.55,1.7],[1.7,1.55],[1.45,2.6],[1.6,3.0]];
const ns4 = [[-1.55,0.9],[1.45,0.95],[-1.7,1.1],[1.55,1.1],[-1.5,1.3],[1.5,1.3],[-1.85,0.82],[-2.02,1.07],[-2.45,1.24],[-2.67,1.33],[-2.97,0.94],[2.86,0.82],[2.02,1.19],[1.7,0.85],[1.6,1.0],[-1.25,0.6],[1.2,0.55],[-1.0,0.45],[1.0,0.45],[-1.6,1.4],[1.8,1.3],[-1.9,1.35],[2.3,1.0],[-2.2,1.3],[-1.35,1.45],[1.25,1.45],[-1.15,1.5],[1.1,1.55],[-2.1,0.6],[-1.4,1.2],[1.3,1.25],[-1.3,1.38],[-1.4,0.75],[1.25,0.7],[-2.4,1.0],[-1.75,0.6],[2.15,1.25],[-2.3,1.15]];
const core4 = [
  [0.05,-0.2,-0.1,0.0,0.1,0.2],
  [0.17,-0.35,-0.25,-0.15,-0.05,0.05,0.15,0.25,0.35],
  [0.28,-0.5,-0.4,-0.3,-0.2,-0.1,0.0,0.1,0.2,0.3,0.4,0.5],
  [0.4,-0.65,-0.55,-0.45,-0.35,-0.25,-0.15,-0.05,0.05,0.15,0.25,0.35,0.45,0.55,0.65],
  [0.51,-0.8,-0.7,-0.6,-0.5,-0.4,-0.3,-0.2,-0.1,0.0,0.1,0.2,0.3,0.4,0.5,0.6,0.7,0.8],
  [0.63,-0.95,-0.85,-0.75,-0.65,-0.55,-0.45,-0.35,-0.25,-0.15,-0.05,0.06,0.16,0.26,0.36,0.46,0.56,0.66,0.76,0.86],
  [0.74,-1.1,-1.0,-0.9,-0.8,-0.7,-0.6,-0.5,-0.4,-0.3,-0.2,-0.1,0.08,0.18,0.28,0.38,0.48,0.58,0.68,0.78,0.88,0.98],
  [0.86,-1.2,-1.1,-1.0,-0.9,-0.8,-0.7,-0.6,-0.5,-0.4,-0.3,-0.2,-0.1,0.1,0.2,0.3,0.4,0.5,0.6,0.7,0.8,0.9,1.0],
  [0.97,-1.25,-1.15,-1.05,-0.95,-0.85,-0.75,-0.65,-0.55,-0.45,-0.35,-0.25,-0.15,0.1,0.2,0.3,0.4,0.5,0.6,0.7,0.8,0.9,1.0],
  [1.09,-1.2,-1.1,-1.0,-0.9,-0.8,-0.7,-0.6,-0.5,-0.4,-0.3,-0.2,0.12,0.22,0.32,0.42,0.52,0.62,0.72,0.82,0.92],
  [1.2,-1.15,-1.05,-0.95,-0.85,-0.75,-0.65,-0.55,-0.45,-0.35,-0.25,0.12,0.22,0.32,0.42,0.52,0.62,0.72,0.82],
  [1.32,-1.05,-0.95,-0.85,-0.75,-0.65,-0.55,-0.45,-0.35,-0.25,0.14,0.24,0.34,0.44,0.54,0.64,0.74],
  [1.43,-0.95,-0.85,-0.75,-0.65,-0.55,-0.45,-0.35,-0.27,0.15,0.25,0.35,0.45,0.55,0.65],
  [1.55,-0.85,-0.75,-0.65,-0.55,-0.45,-0.35,-0.28,0.17,0.27,0.37,0.47,0.57],
  [1.66,-0.75,-0.65,-0.55,-0.45,-0.35,0.18,0.28,0.38,0.48],
  [1.78,-0.65,-0.55,-0.45,-0.35,0.19,0.29,0.39,0.49],
  [1.89,-0.55,-0.45,-0.36,0.2,0.3,0.4],
  [2.01,-0.5,-0.4,0.21,0.31,0.41],
  [2.12,-0.45,-0.37,0.22,0.32],
  [2.24,-0.42,0.23,0.33],
  [2.35,-0.4,0.24,0.32],
  [2.47,0.25],
  [2.7,0.27],
  [2.9,0.28]
];
const cut4L = [[-6.5,1.28],[-4,1.33],[-3,1.37],[-2.4,1.41],[-1.8,1.46],[-1.3,1.56],[-0.94,1.74],[-0.72,1.95],[-0.58,2.17],[-0.48,2.5],[-0.41,2.88],[-0.34,3.6],[-0.3,4.3],[-0.27,6],[-0.25,9.4]];
const cut4R = [[0.22,9.4],[0.24,6],[0.27,4.3],[0.3,3.6],[0.33,2.88],[0.4,2.5],[0.49,2.17],[0.65,1.95],[0.92,1.74],[1.25,1.56],[1.64,1.46],[2.4,1.39],[3.6,1.34]];
const tags4 = [{name:"PATL1",x:0.27,y:1.61},{name:"PATL3",x:-0.33,y:0.28},{name:"PATL2",x:-0.08,y:0.07},{name:"At1g30690",x:-0.03,y:0.02}];

// ---------- Panel 5: Difference (WT_C - N_dKO_C) ----------
const xTicks5 = [-5,-4,-3,-2,-1,0,1,2,3,4,5];
const yTicks5 = [0,1,2,3,4,5,6,7,8,9,10];
const sig5 = [[-5.22,6.76],[-4.78,3.27],[-4.02,4.15],[-3.95,3.94],[-3.72,4.02],[-3.97,1.44],[-3.23,2.73],[-3.11,2.59],[-2.78,2.35],[-2.8,2.18],[-2.68,2.94],[-2.6,2.7],[-2.6,1.96],[-2.6,1.13],[-2.54,5.31],[-2.57,3.99],[-2.57,3.71],[-2.31,3.82],[-2.28,4.12],[-2.24,5.93],[-2.2,5.56],[-2.11,4.59],[-1.99,4.78],[-2.32,1.56],[-2.28,2.49],[-2.19,1.96],[-2.12,2.41],[-2.08,2.67],[-1.99,1.96],[-1.99,2.59],[-2.04,3.33],[-1.99,3.2],[-1.87,3.2],[-2.11,3.44],[-1.85,6.19],[-1.82,5.65],[-1.83,4.26],[-1.76,4.01],[-1.63,3.0],[-1.65,1.98],[-1.64,1.88],[-1.55,6.31],[-1.52,5.69],[-1.53,3.65],[-1.52,1.64],[-1.52,1.4],[-1.46,7.16],[-1.21,6.4],[-1.17,5.96],[-0.99,6.06],[-1.02,9.01],[-1.11,5.43],[-0.96,5.5],[-1.17,4.76],[-1.07,4.67],[-1.33,5.27],[-1.33,4.35],[-1.23,4.14],[-0.73,6.25],[-0.79,5.9],[-0.65,6.98],[-0.69,6.85],[-0.59,5.99],[-0.46,5.99],[-0.57,5.65],[-0.46,5.43],[-0.4,5.47],[-0.59,5.31],[-0.65,5.17],[-0.5,5.03],[-0.59,4.91],[-0.54,4.79],[-0.67,4.64],[-0.49,4.68],[-0.76,4.48],[-0.26,4.5],[-1.0,5.11],[-0.9,4.64],[-1.4,3.85],[-1.17,3.77],[-1.0,3.61],[-0.9,3.41],[-0.67,3.53],
[-0.55,4.1],[-0.59,3.99],[-0.49,3.93],[-0.42,3.81],[-0.63,3.73],[-0.38,3.69],[-0.5,3.65],[-0.34,3.53],[-0.76,3.3],[-0.59,3.26],[-0.44,3.34],[-0.67,3.1],[-0.52,3.06],[-0.38,3.14],[-0.84,2.98],[-0.67,2.9],[-0.55,2.94],[-0.42,2.86],[-1.0,2.86],[-1.13,2.92],[-1.25,2.74],[-0.96,2.67],[-0.76,2.74],[-0.59,2.71],[-0.47,2.63],[-0.34,2.67],[-1.42,2.55],[-1.17,2.51],[-1.04,2.43],[-0.84,2.47],[-0.67,2.51],[-0.55,2.43],[-0.42,2.47],[-1.33,2.31],[-1.13,2.27],[-0.96,2.33],[-0.76,2.27],[-0.63,2.23],[-0.5,2.29],[-0.36,2.23],[-1.5,2.11],[-1.29,2.07],[-1.17,2.13],[-1.0,2.05],[-0.86,2.11],[-0.71,2.03],[-0.57,2.1],[-0.44,2.03],[-1.41,1.88],[-1.25,1.84],[-1.1,1.89],[-0.93,1.81],[-0.77,1.88],[-0.66,1.8],[-0.52,1.86],[-1.46,1.64],[-1.29,1.58],[-1.15,1.66],[-1.0,1.56],[-0.88,1.64],[-0.71,1.58],[-0.57,1.64],[-1.33,1.4],[-1.17,1.36],[-1.0,1.42],[-0.84,1.36],[-0.67,1.44],[-1.4,1.48],[-1.62,1.72],[-1.71,2.67],[-1.79,2.27],[-1.5,3.34],[-1.33,3.18],[-1.17,3.34],[-1.04,3.18],[-1.08,3.06],[-0.84,3.18],[-1.58,2.27],[-1.87,2.11],[-0.84,2.03],
[-0.45,4.4],[-0.52,4.25],[-0.4,4.2],[-0.6,4.05],[-0.45,3.95],[-0.36,3.88],[-0.55,3.85],[-0.7,3.8],[-0.48,3.72],[-0.4,3.6],[-0.6,3.55],[-0.72,3.45],[-0.5,3.42],[-0.36,3.38],[-0.62,3.3],[-0.45,3.2],[-0.55,3.12],[-0.7,3.05],[-0.4,3.0],[-0.5,2.95],[-0.62,2.88],[-0.78,2.82],[-0.45,2.78],[-0.55,2.7],[-0.68,2.62],[-0.4,2.58],[-0.5,2.52],[-0.62,2.45],[-0.78,2.4],[-0.45,2.35],[-0.55,2.28],[-0.7,2.2],[-0.4,2.15],[-0.5,2.08],[-0.62,2.02],[-0.8,1.98],[-0.45,1.92],[-0.55,1.85],[-0.68,1.78],[-0.9,1.72],[-0.5,1.72],[-0.6,1.65],[-0.75,1.6],[-0.95,1.55],[-0.65,1.52],[-0.8,1.48],[-1.1,1.5],[-0.72,1.42],[-0.9,1.4],[-1.05,1.35],[-1.25,1.35],[-0.85,1.75],[-1.0,1.9],[-0.9,2.5],[-1.0,2.2],[-0.95,2.75],[-1.1,3.2],[-0.85,3.6],[-0.8,4.2],[-0.9,3.95],
[0.46,7.31],[1.66,7.69],[1.5,6.88],[2.22,6.62],[2.26,6.44],[2.9,6.76],[3.11,6.76],[3.46,8.64],[3.54,8.12],[3.91,8.12],[5.3,8.58],[4.69,7.22],[0.83,6.37],[0.95,6.44],[0.97,6.14],[1.39,6.06],[1.43,5.96],[1.82,6.11],[0.42,5.66],[2.3,5.62],[3.15,5.57],[0.94,5.44],[0.81,5.35],[0.61,5.11],[0.9,5.17],[1.38,5.19],[2.56,5.31],[2.35,5.15],[2.5,4.94],[2.39,4.72],[2.54,4.24],[0.57,4.89],[0.65,4.79],[0.81,4.72],[1.1,4.76],[1.27,4.83],[1.47,4.87],[1.97,4.83],[2.05,4.66],[0.48,4.48],[0.73,4.56],[0.9,4.44],[1.15,4.52],[1.35,4.36],[1.6,4.42],[1.81,4.48],[0.57,4.24],[0.81,4.18],[1.05,4.26],[1.27,4.12],[1.47,4.16],[1.89,4.09],[2.14,4.1],[3.03,4.01],[0.44,3.93],[0.65,3.85],[0.86,3.89],[1.08,3.77],[1.31,3.83],[1.56,3.77],[1.72,3.69],[2.09,3.77],[2.2,3.73],[2.84,3.77],[0.38,3.65],[0.57,3.57],[0.77,3.49],[0.98,3.53],[1.19,3.41],[1.43,3.49],[1.68,3.41],[1.93,3.38],[2.73,3.34],[2.81,3.38],[0.32,3.3],[0.5,3.22],[0.69,3.26],[0.88,3.14],[1.06,3.18],[1.27,3.06],[1.47,3.14],[1.68,3.1],[2.14,3.1],[2.3,2.98],[2.63,3.14],[2.86,2.9],[0.36,2.98],[0.55,2.9],[0.73,2.94],[0.94,2.84],[1.13,2.9],[1.35,2.78],[1.56,2.86],[1.77,2.74],[1.97,2.9],[2.51,2.78],[2.63,2.94],[0.3,2.67],[0.48,2.59],[0.66,2.67],[0.86,2.55],[1.02,2.63],[1.21,2.51],[1.39,2.59],[1.6,2.47],[1.81,2.55],[2.05,2.43],[2.3,2.59],[2.63,2.52],[0.33,2.35],[0.52,2.29],[0.71,2.35],[0.9,2.23],[1.08,2.31],[1.27,2.19],[1.46,2.27],[1.68,2.15],[1.89,2.27],[2.14,2.11],[2.47,2.11],[2.59,2.07],[3.03,2.23],[3.36,2.18],[3.72,2.05],[0.4,2.03],[0.58,1.97],[0.77,2.03],[0.96,1.92],[1.15,1.97],[1.35,1.88],[1.54,1.94],[1.72,1.84],[1.93,1.92],[2.34,1.88],[2.9,1.74],[3.23,1.84],[0.46,1.72],[0.65,1.64],[0.83,1.7],[1.02,1.6],[1.21,1.66],[1.39,1.56],[1.58,1.62],[1.79,1.56],[2.05,1.6],[0.61,1.44],[0.8,1.39],[0.98,1.42],[1.19,1.36],[1.37,1.4],[1.56,1.34],[1.85,1.36],[1.27,1.25],[1.47,1.21],[2.3,1.22],
[0.3,3.9],[0.35,3.7],[0.42,3.4],[0.32,3.1],[0.4,2.85],[0.3,2.5],[0.36,2.2],[0.3,2.05],[0.42,1.85],[0.38,1.72],[0.5,1.62],[0.55,1.52],[0.62,1.45],[0.7,1.4],[0.52,1.85],[0.6,1.75],[0.7,1.65],[0.45,2.4],[0.55,2.15],[0.65,2.0],[0.75,1.85],[0.85,1.6],[0.9,1.48],[1.05,1.45],[1.15,1.35],[1.3,1.3],[0.6,2.5],[0.75,2.45],[0.85,2.1],[0.95,2.0],[1.1,1.8],[1.25,1.7],[0.6,3.05],[0.8,3.0],[0.95,2.7],[1.1,2.5],[1.2,2.1],[0.5,3.4],[0.7,3.6],[0.9,3.35],[1.05,3.3],[0.58,4.1],[0.75,4.05],[1.0,4.0],[1.2,3.6],[1.3,2.9],[1.45,2.45],[1.55,2.1],[1.65,1.8],[1.5,1.45],[1.7,1.3],[1.95,1.4],[2.15,1.3],[1.3,1.5],[1.45,1.72],[1.05,1.25],[0.9,1.3],[0.8,1.3]];
const ns5 = [[-1.99,0.58],[-1.66,0.97],[-1.54,0.81],[-1.37,0.69],[1.31,0.38],[1.47,0.5],[1.8,1.01],[1.68,0.97],[1.23,0.62],[-1.3,1.05],[1.35,1.05],[-1.45,1.05],[1.5,1.08],[-1.2,0.55],[1.15,0.5],[-1.0,0.4],[1.0,0.45],[-1.15,0.7],[1.1,0.7],[-1.6,0.6],[-1.8,0.8],[1.6,0.75],[-1.1,1.15],[1.25,1.12],[-1.05,0.9],[1.1,0.95],[-1.25,0.85],[1.3,0.85],[-0.9,0.3],[0.85,0.35],[-1.85,0.45],[1.55,0.95]];
const core5 = [
  [0.04,-0.16,-0.05,0.06,0.17],
  [0.16,-0.3,-0.19,-0.08,0.03,0.14,0.25,0.36],
  [0.29,-0.45,-0.34,-0.23,-0.12,-0.01,0.1,0.21,0.32,0.43],
  [0.41,-0.58,-0.47,-0.36,-0.25,-0.14,-0.03,0.08,0.19,0.3,0.41,0.52,0.63],
  [0.54,-0.72,-0.61,-0.5,-0.39,-0.28,-0.17,-0.06,0.05,0.16,0.27,0.38,0.49,0.6,0.71],
  [0.66,-0.85,-0.74,-0.63,-0.52,-0.41,-0.3,-0.19,-0.08,0.05,0.16,0.27,0.38,0.49,0.6,0.71,0.82,0.93],
  [0.79,-0.92,-0.81,-0.7,-0.59,-0.48,-0.37,-0.26,-0.15,0.08,0.19,0.3,0.41,0.52,0.63,0.74,0.85,0.96],
  [0.91,-0.9,-0.79,-0.68,-0.57,-0.46,-0.35,-0.24,-0.13,0.1,0.21,0.32,0.43,0.54,0.65,0.76,0.87,0.98],
  [1.04,-0.82,-0.71,-0.6,-0.49,-0.38,-0.27,-0.16,0.11,0.22,0.33,0.44,0.55,0.66,0.77,0.88],
  [1.16,-0.72,-0.61,-0.5,-0.39,-0.28,-0.17,0.12,0.23,0.34,0.45,0.56,0.67],
  [1.29,-0.62,-0.51,-0.4,-0.29,-0.18,0.12,0.23,0.34,0.45,0.56],
  [1.41,-0.52,-0.41,-0.3,-0.19,0.13,0.24,0.35],
  [1.54,-0.45,-0.34,-0.23,0.13,0.24],
  [1.66,-0.4,-0.29,-0.18,0.13,0.23],
  [1.79,-0.35,-0.24,0.13,0.22],
  [1.91,-0.3,-0.2,0.12,0.21],
  [2.04,-0.27,-0.17,0.12,0.2],
  [2.16,-0.25,-0.15,0.12],
  [2.29,-0.22,-0.13,0.13],
  [2.45,-0.12,0.16],
  [2.6,-0.18,0.14]
];
const cut5L = [[-5.75,1.01],[-4,1.04],[-3,1.07],[-2,1.11],[-1.49,1.15],[-1.1,1.22],[-0.83,1.33],[-0.62,1.48],[-0.5,1.64],[-0.4,1.92],[-0.33,2.27],[-0.28,2.9],[-0.25,3.69],[-0.23,4.8],[-0.21,6.06],[-0.195,10.5]];
const cut5R = [[0.18,10.5],[0.19,6.06],[0.21,4.8],[0.22,3.69],[0.24,2.9],[0.27,2.27],[0.3,1.92],[0.37,1.64],[0.5,1.45],[0.73,1.33],[1.0,1.23],[1.39,1.15],[2,1.1],[3,1.06],[4,1.04],[5.85,1.02]];
const tags5 = [{name:"PATL1",x:2.61,y:9.96},{name:"PATL2",x:0.67,y:5.89},{name:"At1g30690",x:0.81,y:2.05},{name:"PATL3",x:0.11,y:0.1}];

// ---------- Panel 6: Difference (WT_37 - N_dKO_37) ----------
const xTicks6 = [-4,-3,-2,-1,0,1,2,3,4,5,6];
const yTicks6 = [0,1,2,3,4,5,6,7,8,9];
const sig6 = [[5.48,9.44],[5.32,8.66],[1.42,8.53],[1.84,8.53],[3.09,8.17],[4.15,7.67],[2.24,7.29],[1.16,7.07],[-3.22,7.73],[-1.61,6.76],[-1.41,6.68],[0.6,6.65],[1.63,6.7],[3.15,6.72],[3.73,6.72],[2.78,6.3],[3.1,6.3],[-2.68,6.11],[-2.11,6.17],[-2.53,5.87],[-2.63,5.73],[-1.4,5.55],[-2.11,5.28],[0.47,5.98],[0.83,5.81],[1.17,5.92],[1.57,5.68],[1.81,5.64],[0.99,5.54],[1.1,5.68],[2.95,5.64],[3.01,5.66],[3.77,5.57],[3.33,5.39],[5.91,5.82],[4.15,3.82],[2.24,5.0],[2.35,4.64],[2.87,4.19],[2.28,4.23],[1.98,4.23],[1.82,4.46],[1.95,4.46],[1.65,4.34],[2.4,3.25],[2.61,3.09],[1.98,3.68],[1.65,3.59],[1.39,3.37],[1.25,3.18],[1.52,3.16],[1.8,3.16],[1.66,2.92],[1.82,2.84],[1.77,2.74],[1.59,2.73],[2.05,2.52],[2.2,2.58],[3.06,2.46],[3.1,2.49],[2.87,2.29],[2.35,2.22],[2.57,2.07],[2.01,2.05],[2.12,1.99],[2.93,1.89],[1.86,1.86],[1.77,1.75],[1.87,1.49],
[0.46,5.13],[0.49,5.02],[0.71,5.13],[0.74,4.82],[0.56,4.76],[0.98,4.78],[1.26,5.0],[1.13,4.94],[1.21,4.83],[0.79,4.55],[0.94,4.53],[1.17,4.57],[1.4,4.49],[0.56,4.38],[0.75,4.34],[0.55,4.19],[0.76,4.15],[0.47,3.97],[0.64,3.91],[0.85,3.88],[1.1,4.04],[1.13,3.91],[1.21,3.89],[1.25,4.04],[1.4,3.97],[1.02,3.55],[1.06,3.74],[0.89,3.68],[0.37,3.82],[0.41,3.7],[0.52,3.59],[0.71,3.52],[0.45,3.4],[0.6,3.37],[0.33,3.29],[0.48,3.22],[0.71,3.25],[0.9,3.23],[0.41,3.1],[0.56,3.08],[0.75,3.05],[0.94,3.1],[1.17,2.95],[1.4,2.92],[0.49,2.92],[0.68,2.84],[0.79,2.88],[0.9,2.78],[1.02,2.73],[0.49,2.69],[0.79,2.65],[1.13,2.61],[1.21,2.5],[1.34,2.54],[0.6,2.5],[0.71,2.39],[1.02,2.39],[1.21,2.31],[0.79,2.24],[0.94,2.16],[1.1,2.22],[1.29,2.05],[1.4,2.01],[1.52,2.0],[1.67,2.01],[0.96,2.01],[1.02,1.9],[1.16,1.86],[1.25,1.83],[1.39,1.8],[1.48,1.75],[0.87,1.98],[0.71,2.16],[1.1,1.71],[1.25,1.68],[1.44,1.6],[1.59,1.56],[1.02,1.75],
[0.38,3.55],[0.42,3.25],[0.48,3.0],[0.55,2.78],[0.62,2.6],[0.72,2.45],[0.82,2.3],[0.92,2.15],[1.08,2.05],[1.25,1.95],[1.4,1.85],[0.5,3.6],[0.58,3.35],[0.65,3.05],[0.75,2.8],[0.88,2.6],[1.0,2.45],[1.15,2.3],[1.3,2.2],[0.4,4.0],[0.6,3.8],[0.68,4.2],[0.88,3.45],[0.98,3.15],[1.18,2.75],[1.32,2.55],[1.5,2.35],[1.65,2.2],[1.45,2.8],[1.55,3.35],[1.3,3.6],[0.95,4.3],[1.5,4.1],[1.7,3.9],[1.9,3.5],[2.1,3.1],[2.0,2.3],[2.3,1.75],[1.6,1.6],[1.15,1.8],
[-3.82,3.14],[-3.56,3.76],[-3.12,3.82],[-3.12,2.16],[-2.98,2.13],[-2.88,1.89],[-2.79,2.69],[-2.75,2.78],[-2.7,2.88],[-2.7,2.46],[-2.58,2.18],[-2.43,3.7],[-2.34,2.88],[-2.31,4.1],[-2.19,2.67],[-2.18,3.49],[-2.16,2.03],[-2.04,2.9],[-1.98,2.8],[-1.98,1.86],[-1.95,2.77],[-1.91,2.28],[-1.87,4.36],[-1.81,2.71],[-1.73,4.55],[-1.73,3.03],[-1.69,3.4],[-1.61,3.44],[-1.6,2.2],[-1.58,2.22],[-1.55,2.69],[-1.5,3.29],[-1.52,1.98],[-1.48,2.67],[-1.45,2.31],[-1.43,2.45],[-1.39,1.8],[-1.34,2.95],[-1.31,3.73],[-1.29,3.68],[-1.19,3.0],[-1.17,2.58],[-1.13,2.54],[-1.09,2.35],[-1.08,2.18],[-1.0,4.48],[-0.99,2.6],[-0.99,1.79],[-0.96,2.01],[-0.9,3.07],[-0.89,3.89],[-0.86,2.84],[-0.82,4.1],[-0.81,2.39],[-0.74,4.19],[-0.74,4.46],[-0.74,3.19],[-0.7,3.37],[-0.65,4.79],[-0.64,5.09],[-0.58,3.45],[-0.57,3.69],[-0.52,3.29],[-0.51,3.16],[-0.51,2.61],[-0.43,4.37],[-0.43,4.02],[-0.41,3.5],[-0.89,1.98],[-1.27,1.86],[-0.89,2.35],[-0.66,2.84],[-1.34,1.68],[-1.58,1.6],[-0.54,2.46],
[-0.42,3.6],[-0.48,3.3],[-0.55,3.0],[-0.62,2.75],[-0.7,2.55],[-0.8,2.35],[-0.9,2.2],[-1.0,2.05],[-1.15,1.9],[-1.3,1.78],[-0.5,3.9],[-0.6,3.55],[-0.68,3.2],[-0.78,2.95],[-0.9,2.7],[-1.05,2.5],[-1.2,2.3],[-1.4,2.1],[-0.45,4.3],[-0.65,4.05],[-0.85,3.5],[-1.0,3.3],[-1.2,2.9],[-1.5,2.5],[-1.7,2.0],[-2.0,1.75],[-2.4,1.6],[-2.8,1.9],[-2.5,2.5],[-1.8,3.1],[-1.1,4.0]];
const ns6 = [[-2.79,0.96],[-2.57,0.96],[-2.53,1.22],[-1.84,0.55],[-1.76,0.66],[-1.65,0.85],[-1.5,0.96],[-1.12,0.29],[1.59,0.59],[1.59,0.74],[2.09,1.34],[2.24,1.11],[2.09,1.07],[1.4,0.85],[-1.4,1.1],[1.45,1.1],[-1.6,1.2],[1.6,1.25],[-1.3,0.6],[1.3,0.6],[-1.0,0.45],[1.05,0.5],[-1.5,1.35],[1.75,1.3],[-2.0,1.2],[-1.9,1.0],[1.9,0.95],[-1.25,0.85],[1.2,0.8],[-2.3,0.8],[-1.4,0.5],[1.8,1.1],[-1.2,1.2],[1.15,1.2],[-1.3,1.0],[1.25,1.0],[-1.1,1.3],[1.05,1.35],[-2.2,1.05],[-1.7,1.3]];
const core6 = [
  [0.04,-0.15,-0.05,0.05,0.15],
  [0.16,-0.3,-0.2,-0.1,0.0,0.1,0.2,0.3],
  [0.28,-0.42,-0.32,-0.22,-0.12,-0.02,0.08,0.18,0.28,0.38],
  [0.4,-0.55,-0.45,-0.35,-0.25,-0.15,-0.05,0.05,0.15,0.25,0.35,0.45,0.55],
  [0.52,-0.68,-0.58,-0.48,-0.38,-0.28,-0.18,-0.08,0.04,0.14,0.24,0.34,0.44,0.54,0.64],
  [0.64,-0.8,-0.7,-0.6,-0.5,-0.4,-0.3,-0.2,-0.1,0.06,0.16,0.26,0.36,0.46,0.56,0.66,0.76],
  [0.76,-0.9,-0.8,-0.7,-0.6,-0.5,-0.4,-0.3,-0.2,-0.1,0.08,0.18,0.28,0.38,0.48,0.58,0.68,0.78,0.88],
  [0.88,-1.0,-0.9,-0.8,-0.7,-0.6,-0.5,-0.4,-0.3,-0.2,0.1,0.2,0.3,0.4,0.5,0.6,0.7,0.8,0.9],
  [1.0,-1.05,-0.95,-0.85,-0.75,-0.65,-0.55,-0.45,-0.35,-0.25,-0.15,0.1,0.2,0.3,0.4,0.5,0.6,0.7,0.8,0.9,1.0],
  [1.12,-1.0,-0.9,-0.8,-0.7,-0.6,-0.5,-0.4,-0.3,-0.2,0.12,0.22,0.32,0.42,0.52,0.62,0.72,0.82,0.92],
  [1.24,-0.95,-0.85,-0.75,-0.65,-0.55,-0.45,-0.35,-0.25,0.13,0.23,0.33,0.43,0.53,0.63,0.73,0.83],
  [1.36,-0.88,-0.78,-0.68,-0.58,-0.48,-0.38,-0.28,0.14,0.24,0.34,0.44,0.54,0.64,0.74],
  [1.48,-0.8,-0.7,-0.6,-0.5,-0.4,-0.3,0.15,0.25,0.35,0.45,0.55,0.65],
  [1.6,-0.72,-0.62,-0.52,-0.42,-0.32,0.16,0.26,0.36,0.46,0.56],
  [1.72,-0.64,-0.54,-0.44,-0.34,0.17,0.27,0.37,0.47],
  [1.84,-0.58,-0.48,-0.38,0.18,0.28,0.38],
  [1.96,-0.52,-0.42,0.19,0.29,0.39],
  [2.08,-0.48,-0.38,0.2,0.3],
  [2.2,-0.44,0.21,0.31],
  [2.32,-0.42,0.22,0.3],
  [2.5,-0.41,0.25],
  [2.7,-0.39,0.26],
  [2.88,0.24]
];
const cut6L = [[-4.3,1.31],[-3,1.34],[-1.88,1.41],[-1.4,1.52],[-1.04,1.71],[-0.75,2.0],[-0.58,2.31],[-0.46,2.75],[-0.39,3.21],[-0.3,5.09],[-0.27,7],[-0.25,9.9]];
const cut6R = [[0.2,9.9],[0.22,7],[0.26,5.09],[0.33,3.21],[0.41,2.75],[0.52,2.31],[0.7,2.0],[1.02,1.71],[1.4,1.52],[1.93,1.41],[3,1.35],[4.5,1.31],[6.36,1.28]];
const tags6 = [{name:"PATL1",x:2.29,y:8.49},{name:"At1g30690",x:1.09,y:3.5},{name:"PATL2",x:0.64,y:2.16},{name:"PATL3",x:0.42,y:0.6}];

// ---------- layout of the six plots ----------
const panels = [
  {n:"1", sig:sig1, ns:ns1, core:core1, cutL:cut1L, cutR:cut1R, tags:tags1, xt:xTicks1, yt:yTicks1,
   xlab:"Difference (WT_C - WT_37)", box:{l:35.7, r:665, t:8, b:473}, xd:[-9.097,4.81], yd:[-0.443,9.23],
   num:[599,42], xlabPos:[350,494], ylabPos:[13,240], at1gColor:"#a23ad0"},
  {n:"2", sig:sig2, ns:ns2, core:core2, cutL:cut2L, cutR:cut2R, tags:tags2, xt:xTicks2, yt:yTicks2,
   xlab:"Difference (N_dKO_C - N_dKO_37)", box:{l:755.7, r:1388.5, t:13, b:465}, xd:[-8.46,3.94], yd:[-0.61,12.92],
   num:[1295,42], xlabPos:[1072,486], ylabPos:[733,233]},
  {n:"3", sig:sig3, ns:ns3, core:core3, cutL:cut3L, cutR:cut3R, tags:tags3, xt:xTicks3, yt:yTicks3,
   xlab:"Difference (ROFB_C - ROFB_37)", box:{l:33.4, r:662.7, t:611.7, b:1071}, xd:[-7.49,2.84], yd:[-0.53,10.74],
   num:[601.6,643], xlabPos:[347.6,1091.5], ylabPos:[11,840]},
  {n:"4", sig:sig4, ns:ns4, core:core4, cutL:cut4L, cutR:cut4R, tags:tags4, xt:xTicks4, yt:yTicks4,
   xlab:"Difference (rol2_C - rol2_37)", box:{l:757.9, r:1381.8, t:611.7, b:1072.7}, xd:[-6.47,3.57], yd:[-0.45,9.38],
   num:[1294,641.7], xlabPos:[1069.9,1093], ylabPos:[733,840]},
  {n:"5", sig:sig5, ns:ns5, core:core5, cutL:cut5L, cutR:cut5R, tags:tags5, xt:xTicks5, yt:yTicks5,
   xlab:"Difference (WT_C - N_dKO_C)", box:{l:37.9, r:662.7, t:1185, b:1647.7}, xd:[-5.74,5.83], yd:[-0.51,10.43],
   num:[601.6,1211.7], xlabPos:[349.8,1669], ylabPos:[13.4,1416.7]},
  {n:"6", sig:sig6, ns:ns6, core:core6, cutL:cut6L, cutR:cut6R, tags:tags6, xt:xTicks6, yt:yTicks6,
   xlab:"Difference (WT_37 - N_dKO_37)", box:{l:759.3, r:1381.8, t:1190, b:1651}, xd:[-4.30,6.36], yd:[-0.49,9.9],
   num:[1244.6,1210], xlabPos:[1069.9,1670.5], ylabPos:[737.9,1416.7]}
];

const SANS = "'Liberation Sans', Arial, Helvetica, sans-serif";
const SERIF = "'Liberation Serif', 'Times New Roman', serif";
const SIG_COLOR = "#e8126c";
const NS_COLOR = "#a0a0a0";
const tagStyle = {
  PATL1:     {color:"#cf45df", shape:"openSquare"},
  PATL2:     {color:"#2b2bdc", shape:"square"},
  PATL3:     {color:"#e2453f", shape:"openCircle"},
  At1g30690: {color:"#55429a", shape:"square", mark:"#3c2a7a"}
};

const svg = d3.select("#chart");
const defs = svg.append("defs");

panels.forEach(p => {
  const b = p.box;
  const x = d3.scaleLinear().domain(p.xd).range([b.l, b.r]);
  const y = d3.scaleLinear().domain(p.yd).range([b.b, b.t]);
  const g = svg.append("g").attr("class", "panel-" + p.n);

  const clipId = "plot-clip-" + p.n;
  defs.append("clipPath").attr("id", clipId)
    .append("rect").attr("x", b.l).attr("y", b.t).attr("width", b.r - b.l).attr("height", b.b - b.t);
  const plot = g.append("g").attr("clip-path", `url(#${clipId})`);

  // dense non-significant cloud: slightly larger open squares so they merge
  const core = p.core.flatMap(row => row.slice(1).map(v => [v, row[0]]));
  plot.append("g").selectAll("rect").data(core).join("rect")
    .attr("x", d => x(d[0]) - 2.7).attr("y", d => y(d[1]) - 2.7)
    .attr("width", 5.4).attr("height", 5.4)
    .attr("fill", "none").attr("stroke", NS_COLOR).attr("stroke-width", 1.3);

  // scattered non-significant proteins: open grey squares
  plot.append("g").selectAll("rect").data(p.ns).join("rect")
    .attr("x", d => x(d[0]) - 2.3).attr("y", d => y(d[1]) - 2.3)
    .attr("width", 4.6).attr("height", 4.6)
    .attr("fill", "none").attr("stroke", NS_COLOR).attr("stroke-width", 1);

  // significance cut-off curve (two branches)
  const line = d3.line().x(d => x(d[0])).y(d => y(d[1])).curve(d3.curveMonotoneX);
  [p.cutL, p.cutR].forEach(branch => {
    plot.append("path").attr("d", line(branch))
      .attr("fill", "none").attr("stroke", "#1a1a1a").attr("stroke-width", 1.6);
  });

  // significant proteins: filled pink dots
  plot.append("g").selectAll("circle").data(p.sig).join("circle")
    .attr("cx", d => x(d[0])).attr("cy", d => y(d[1])).attr("r", 2.3)
    .attr("fill", SIG_COLOR);

  // highlighted proteins
  const tg = g.append("g");
  p.tags.forEach(t => {
    const st = tagStyle[t.name];
    const cx = x(t.x), cy = y(t.y);
    if (st.shape === "openCircle") {
      tg.append("circle").attr("cx", cx).attr("cy", cy).attr("r", 2)
        .attr("fill", "none").attr("stroke", st.color).attr("stroke-width", 1);
    } else if (st.shape === "openSquare") {
      tg.append("rect").attr("x", cx - 2).attr("y", cy - 2).attr("width", 4).attr("height", 4)
        .attr("fill", "none").attr("stroke", st.color).attr("stroke-width", 1);
    } else {
      tg.append("rect").attr("x", cx - 1.8).attr("y", cy - 1.8).attr("width", 3.6).attr("height", 3.6)
        .attr("fill", st.mark || st.color);
    }
    const col = (t.name === "At1g30690" && p.at1gColor) ? p.at1gColor : st.color;
    tg.append("text").attr("x", cx + 4).attr("y", cy + 10)
      .attr("font-family", SANS).attr("font-size", 12.5).attr("fill", col)
      .text(t.name);
  });

  // axes
  const xAxis = d3.axisBottom(x).tickValues(p.xt).tickSize(3).tickSizeOuter(0).tickPadding(3)
    .tickFormat(d3.format("d"));
  const gx = g.append("g").attr("transform", `translate(0,${b.b})`).call(xAxis);
  const yAxis = d3.axisLeft(y).tickValues(p.yt).tickSize(3).tickSizeOuter(0)
    .tickFormat(d3.format("d"));
  const gy = g.append("g").attr("transform", `translate(${b.l},0)`).call(yAxis);
  [gx, gy].forEach(a => {
    a.select(".domain").attr("stroke", "#111").attr("stroke-width", 1.2);
    a.selectAll(".tick line").attr("stroke", "#333").attr("stroke-width", 0.8);
    a.selectAll("text").attr("font-family", SANS).attr("font-size", 7).attr("fill", "#555");
  });
  gy.selectAll(".tick text")
    .attr("x", 0).attr("dy", "0").attr("text-anchor", "middle")
    .attr("transform", "translate(-7.5,0) rotate(-90)");

  // axis titles
  g.append("text").attr("x", p.xlabPos[0]).attr("y", p.xlabPos[1])
    .attr("text-anchor", "middle").attr("dominant-baseline", "central")
    .attr("font-family", SANS).attr("font-size", 8.5).attr("fill", "#444")
    .text(p.xlab);
  g.append("text")
    .attr("transform", `translate(${p.ylabPos[0]},${p.ylabPos[1]}) rotate(-90)`)
    .attr("text-anchor", "middle").attr("dominant-baseline", "central")
    .attr("font-family", SANS).attr("font-size", 9).attr("fill", "#222")
    .text("-Log p");

  // plot number
  g.append("text").attr("x", p.num[0]).attr("y", p.num[1])
    .attr("text-anchor", "middle").attr("dominant-baseline", "central")
    .attr("font-family", SERIF).attr("font-weight", "bold").attr("font-size", 14).attr("fill", "#111")
    .text(p.n);
});
</script>
</body>
</html>
